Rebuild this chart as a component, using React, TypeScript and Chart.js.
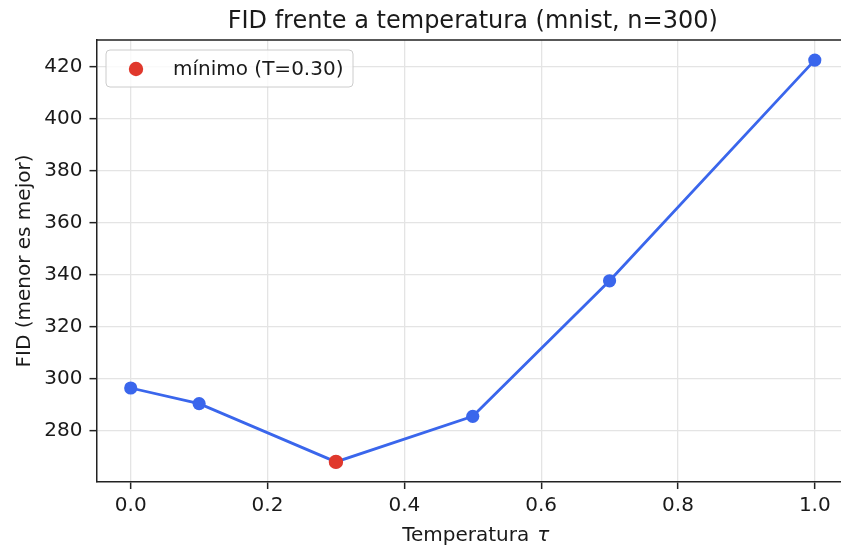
import React, { useEffect, useRef } from 'react';
import { Chart, registerables } from 'chart.js';

Chart.register(...registerables);

const temperatures = [0.0, 0.1, 0.3, 0.5, 0.7, 1.0];
const fidValues = [296.4, 290.4, 268.0, 285.5, 337.6, 422.4];
const minTemperature = 0.3;
const minFid = 268.0;
const xTicks = [0.0, 0.2, 0.4, 0.6, 0.8, 1.0];
const yTicks = [280, 300, 320, 340, 360, 380, 400, 420];

const TITLE = 'FID frente a temperatura (mnist, n=300)';
const X_LABEL_MAIN = 'Temperatura';
const X_LABEL_MATH = 'τ';
const Y_LABEL = 'FID (menor es mejor)';
const LEGEND_LABEL = 'mínimo (T=0.30)';

const FONT = '"DejaVu Sans", "Liberation Sans", sans-serif';
const BLUE = '#3a66ec';
const RED = '#e0382c';
const INK = '#1a1a1a';
const SPINE = '#222222';
const GRID = '#e4e4e4';

const VIEW_W = 841;
const W = 849; // plot area continues slightly past the right edge of the picture
const H = 546;

function roundRectPath(ctx: CanvasRenderingContext2D, x: number, y: number, w: number, h: number, r: number) {
  ctx.beginPath();
  ctx.moveTo(x + r, y);
  ctx.lineTo(x + w - r, y);
  ctx.quadraticCurveTo(x + w, y, x + w, y + r);
  ctx.lineTo(x + w, y + h - r);
  ctx.quadraticCurveTo(x + w, y + h, x + w - r, y + h);
  ctx.lineTo(x + r, y + h);
  ctx.quadraticCurveTo(x, y + h, x, y + h - r);
  ctx.lineTo(x, y + r);
  ctx.quadraticCurveTo(x, y, x + r, y);
  ctx.closePath();
}

const overlayPlugin = {
  id: 'mplOverlay',
  afterDraw(chart: any) {
    const { ctx, chartArea: a } = chart;
    const cx = (a.left + a.right) / 2;
    ctx.save();
    // top & right spines
    ctx.strokeStyle = SPINE;
    ctx.lineWidth = 1.5;
    ctx.beginPath();
    ctx.moveTo(a.left, a.top);
    ctx.lineTo(a.right, a.top);
    ctx.lineTo(a.right, a.bottom);
    ctx.stroke();

    // title
    ctx.fillStyle = INK;
    ctx.font = `24px ${FONT}`;
    ctx.textAlign = 'center';
    ctx.textBaseline = 'alphabetic';
    ctx.fillText(TITLE, cx, 28);

    // x label with italic tau
    const gap = 8;
    ctx.font = `20px ${FONT}`;
    const w1 = ctx.measureText(X_LABEL_MAIN).width;
    ctx.font = `italic 20px ${FONT}`;
    const w2 = ctx.measureText(X_LABEL_MATH).width;
    const sx = cx + 3 - (w1 + gap + w2) / 2;
    ctx.textAlign = 'left';
    ctx.font = `20px ${FONT}`;
    ctx.fillText(X_LABEL_MAIN, sx, 541);
    ctx.font = `italic 20px ${FONT}`;
    ctx.fillText(X_LABEL_MATH, sx + w1 + gap, 541);

    // y label
    ctx.save();
    ctx.translate(30, (a.top + a.bottom) / 2);
    ctx.rotate(-Math.PI / 2);
    ctx.font = `20px ${FONT}`;
    ctx.textAlign = 'center';
    ctx.fillText(Y_LABEL, 0, 0);
    ctx.restore();

    // legend
    const lx = a.left + 9.5;
    const ly = a.top + 10;
    const lw = 247;
    const lh = 37;
    roundRectPath(ctx, lx, ly, lw, lh, 4);
    ctx.fillStyle = 'rgba(255,255,255,0.8)';
    ctx.fill();
    ctx.strokeStyle = '#cccccc';
    ctx.lineWidth = 1;
    ctx.stroke();
    ctx.beginPath();
    ctx.arc(lx + 30, ly + lh / 2 + 0.5, 7.2, 0, Math.PI * 2);
    ctx.fillStyle = RED;
    ctx.fill();
    ctx.fillStyle = INK;
    ctx.font = `20px ${FONT}`;
    ctx.textAlign = 'left';
    ctx.textBaseline = 'middle';
    ctx.fillText(LEGEND_LABEL, lx + 67, ly + lh / 2 + 1);
    ctx.restore();
  },
};

export default function App() {
  const canvasRef = useRef<HTMLCanvasElement | null>(null);

  useEffect(() => {
    const canvas = canvasRef.current;
    if (!canvas) return;

    const xMinData = Math.min(...temperatures);
    const xMaxData = Math.max(...temperatures);
    const xPad = (xMaxData - xMinData) * 0.05;
    const yMinData = Math.min(...fidValues);
    const yMaxData = Math.max(...fidValues);
    const yPad = (yMaxData - yMinData) * 0.05;

    const chart = new Chart(canvas, {
      type: 'line',
      data: {
        datasets: [
          {
            label: LEGEND_LABEL,
            data: [{ x: minTemperature, y: minFid }],
            showLine: false,
            pointRadius: 7.2,
            pointBackgroundColor: RED,
            pointBorderWidth: 0,
            borderColor: RED,
            backgroundColor: RED,
          },
          {
            label: 'FID',
            data: temperatures.map((t, i) => ({ x: t, y: fidValues[i] })),
            borderColor: BLUE,
            backgroundColor: BLUE,
            borderWidth: 2.8,
            pointRadius: 6.6,
            pointBackgroundColor: BLUE,
            pointBorderWidth: 0,
            tension: 0,
            fill: false,
          },
        ],
      },
      options: {
        responsive: false,
        animation: false,
        devicePixelRatio: 1,
        layout: { autoPadding: false, padding: { top: 40, left: 0, right: 0, bottom: 0 } },
        plugins: {
          legend: { display: false },
          title: { display: false },
          tooltip: { enabled: false },
        },
        scales: {
          x: {
            type: 'linear',
            min: xMinData - xPad,
            max: xMaxData + xPad,
            afterBuildTicks: (s: any) => {
              s.ticks = xTicks.map((v) => ({ value: v }));
            },
            afterFit: (s: any) => {
              s.height = 64;
              s.paddingLeft = 0;
              s.paddingRight = 0;
            },
            ticks: {
              callback: (v: any) => Number(v).toFixed(1),
              font: { family: FONT, size: 20 },
              color: INK,
              padding: 5,
              maxRotation: 0,
              autoSkip: false,
            },
            grid: {
              color: GRID,
              lineWidth: 1.3,
              tickColor: SPINE,
              tickLength: 7,
              tickWidth: 1.5,
            },
            border: { color: SPINE, width: 1.5 },
          },
          y: {
            type: 'linear',
            min: yMinData - yPad,
            max: yMaxData + yPad,
            afterBuildTicks: (s: any) => {
              s.ticks = yTicks.map((v) => ({ value: v }));
            },
            afterFit: (s: any) => {
              s.width = 96.5;
              s.paddingTop = 0;
              s.paddingBottom = 0;
            },
            ticks: {
              callback: (v: any) => String(v),
              font: { family: FONT, size: 20 },
              color: INK,
              padding: 7,
              autoSkip: false,
            },
            grid: {
              color: GRID,
              lineWidth: 1.3,
              tickColor: SPINE,
              tickLength: 7,
              tickWidth: 1.5,
            },
            border: { color: SPINE, width: 1.5 },
          },
        },
      },
      plugins: [overlayPlugin],
    } as any);

    return () => chart.destroy();
  }, []);

  return (
    <div
      style={{
        position: 'fixed',
        left: 0,
        top: 0,
        width: VIEW_W,
        height: H,
        overflow: 'hidden',
        background: '#ffffff',
      }}
    >
      <canvas ref={canvasRef} width={W} height={H} style={{ display: 'block', width: W, height: H }} />
    </div>
  );
}
